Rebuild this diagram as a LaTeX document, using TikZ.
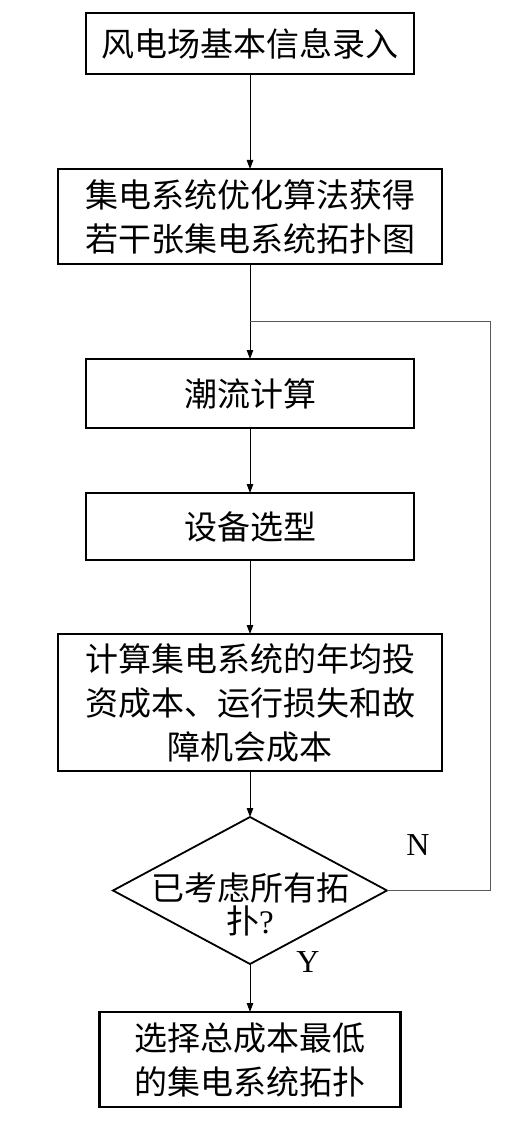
\documentclass[tikz,border=0pt]{standalone}
\usepackage{fontspec}
\setmainfont{Liberation Serif}
\newfontfamily\cjk{Noto Sans CJK SC}
\usepackage{tikz}
\usetikzlibrary{positioning, shapes.geometric, arrows.meta}

\begin{document}
\begin{tikzpicture}[x=1pt, y=-1pt,
  procbox/.style={draw, rectangle, line width=2.4pt, minimum width=328pt, align=center, inner sep=0pt, outer sep=0pt, font=\cjk\fontsize{33}{44}\selectfont},
  choice/.style={draw, diamond, line width=1.8pt, minimum width=274pt, minimum height=147pt, inner sep=0pt, outer sep=0pt},
  arrow/.style={-{Triangle[length=9pt, width=6.5pt]}, line width=0.9pt},
  loopline/.style={line width=1pt, black!65},
  yesno/.style={font=\fontsize{32}{32}\selectfont}
]
\useasboundingbox (0,0) rectangle (520,1123);
\node[procbox, minimum height=61pt] (info) at (250,43.5) {风电场基本信息录入};
\node[procbox, minimum width=384pt, minimum height=95pt, below=95pt of info] (optim) {集电系统优化算法获得\\若干张集电系统拓扑图};
\node[procbox, minimum height=69pt, below=95pt of optim] (flow) {潮流计算};
\node[procbox, minimum height=67pt, below=65pt of flow] (equip) {设备选型};
\node[procbox, minimum width=384pt, minimum height=137pt, below=74pt of equip] (cost) {计算集电系统的年均投\\资成本、运行损失和故\\障机会成本};
\node[choice, below=46pt of cost,
  label={[font=\cjk\fontsize{33}{33}\selectfont, align=center, yshift=-14pt]center:已考虑所有拓\\扑{\rmfamily ?}}] (check) {};
\node[procbox, minimum width=301pt, minimum height=95pt, below=48pt of check] (best) {选择总成本最低\\的集电系统拓扑};
% return path for the next topology
\coordinate (join) at (250,321);
\coordinate (turn) at (490,321);
\draw[arrow] (info) -- (optim);
\draw[arrow] (optim) -- (flow);
\draw[arrow] (flow) -- (equip);
\draw[arrow] (equip) -- (cost);
\draw[arrow] (cost) -- (check);
\draw[arrow] (check) -- (best);
\draw[loopline] (check.east) -| (turn) -- (join);
\node[yesno] (nlabel) at (418,845) {N};
\node[yesno] (ylabel) at (308,962) {Y};
\end{tikzpicture}
\end{document}
